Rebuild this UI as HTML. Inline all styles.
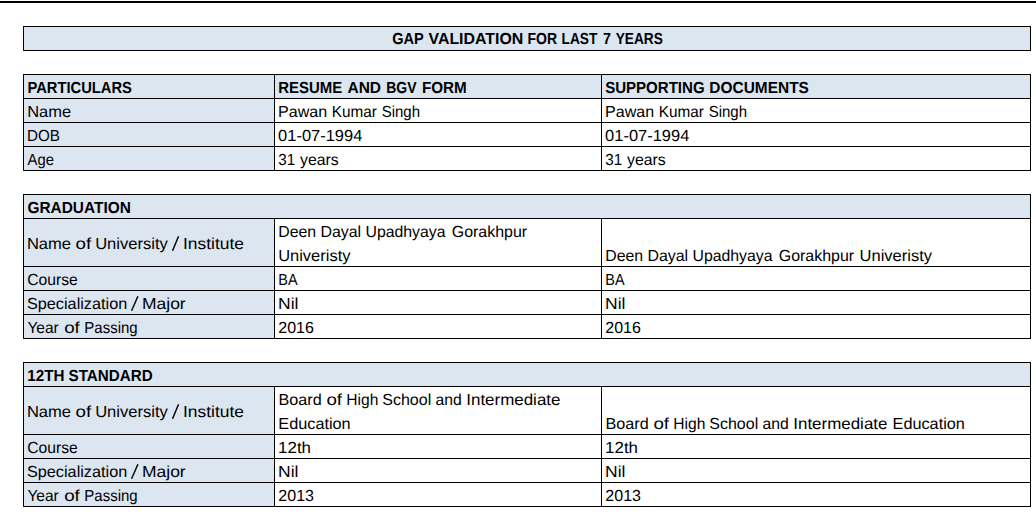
<!DOCTYPE html>
<html><head><meta charset="utf-8"><title>Gap Validation</title>
<style>
html,body{margin:0;padding:0;background:#fff;}
body{width:1036px;height:521px;position:relative;overflow:hidden;font-family:"Liberation Sans",sans-serif;color:#000;text-rendering:geometricPrecision;}
.topbar{position:absolute;left:0;top:1px;width:1036px;height:2px;background:#000;}
.f{position:absolute;background:#dce6f1;}
.h{position:absolute;height:1px;background:#000;left:23px;width:1008px;}
.v{position:absolute;width:1px;background:#000;}
.t{position:absolute;white-space:nowrap;font-size:16px;line-height:24px;height:24px;transform-origin:0 0;}
.b{font-weight:bold;}
.s{position:absolute;overflow:visible;}
</style></head><body>
<div class="topbar"></div>
<div class="f" style="left:23px;top:26px;width:1008px;height:25px"></div>
<div class="f" style="left:23px;top:74px;width:1008px;height:25px"></div>
<div class="f" style="left:23px;top:98px;width:252px;height:73px"></div>
<div class="f" style="left:23px;top:194px;width:1008px;height:25px"></div>
<div class="f" style="left:23px;top:218px;width:252px;height:121px"></div>
<div class="f" style="left:23px;top:362px;width:1008px;height:25px"></div>
<div class="f" style="left:23px;top:386px;width:252px;height:121px"></div>
<div class="h" style="top:26px"></div>
<div class="h" style="top:50px"></div>
<div class="h" style="top:74px"></div>
<div class="h" style="top:98px"></div>
<div class="h" style="top:122px"></div>
<div class="h" style="top:146px"></div>
<div class="h" style="top:170px"></div>
<div class="h" style="top:194px"></div>
<div class="h" style="top:218px"></div>
<div class="h" style="top:266px"></div>
<div class="h" style="top:290px"></div>
<div class="h" style="top:314px"></div>
<div class="h" style="top:338px"></div>
<div class="h" style="top:362px"></div>
<div class="h" style="top:386px"></div>
<div class="h" style="top:434px"></div>
<div class="h" style="top:458px"></div>
<div class="h" style="top:482px"></div>
<div class="h" style="top:506px"></div>
<div class="v" style="left:23px;top:26px;height:25px"></div>
<div class="v" style="left:1030px;top:26px;height:25px"></div>
<div class="v" style="left:23px;top:74px;height:97px"></div>
<div class="v" style="left:1030px;top:74px;height:97px"></div>
<div class="v" style="left:23px;top:194px;height:145px"></div>
<div class="v" style="left:1030px;top:194px;height:145px"></div>
<div class="v" style="left:23px;top:362px;height:145px"></div>
<div class="v" style="left:1030px;top:362px;height:145px"></div>
<div class="v" style="left:274px;top:74px;height:97px"></div>
<div class="v" style="left:601px;top:74px;height:97px"></div>
<div class="v" style="left:274px;top:218px;height:121px"></div>
<div class="v" style="left:601px;top:218px;height:121px"></div>
<div class="v" style="left:274px;top:386px;height:121px"></div>
<div class="v" style="left:601px;top:386px;height:121px"></div>
<span class="t b" style="left:392px;top:28px;transform:translateX(0.15px) scaleX(0.9105)">GAP</span>
<span class="t b" style="left:428px;top:28px;transform:translateX(0.51px) scaleX(0.9932)">VALIDATION</span>
<span class="t b" style="left:527px;top:28px;transform:translateX(0.47px) scaleX(0.8767)">FOR</span>
<span class="t b" style="left:561px;top:28px;transform:translateX(0.58px) scaleX(0.8574)">LAST</span>
<span class="t b" style="left:602px;top:28px;transform:translateX(1.00px) scaleX(0.8937)">7</span>
<span class="t b" style="left:615px;top:28px;transform:translateX(0.72px) scaleX(0.8554)">YEARS</span>
<span class="t b" style="left:27px;top:77px;transform:translateX(0.40px) scaleX(0.9211)">PARTICULARS</span>
<span class="t b" style="left:278px;top:77px;transform:translateX(0.27px) scaleX(0.9340)">RESUME</span>
<span class="t b" style="left:347px;top:77px;transform:translateX(0.43px) scaleX(0.9702)">AND</span>
<span class="t b" style="left:386px;top:77px;transform:translateX(0.22px) scaleX(0.8733)">BGV</span>
<span class="t b" style="left:421px;top:77px;transform:translateX(0.91px) scaleX(0.9524)">FORM</span>
<span class="t b" style="left:605px;top:77px;transform:translateX(0.14px) scaleX(0.9404)">SUPPORTING</span>
<span class="t b" style="left:709px;top:77px;transform:translateX(0.36px) scaleX(0.9653)">DOCUMENTS</span>
<span class="t" style="left:27px;top:101px;transform:translateX(0.18px) scaleX(1.0281)">Name</span>
<span class="t" style="left:278px;top:101px;transform:translateX(0.12px) scaleX(1.0041)">Pawan</span>
<span class="t" style="left:331px;top:101px;transform:translateX(0.68px) scaleX(0.9570)">Kumar</span>
<span class="t" style="left:381px;top:101px;transform:translateX(0.63px) scaleX(0.9376)">Singh</span>
<span class="t" style="left:605px;top:101px;transform:translateX(0.12px) scaleX(1.0041)">Pawan</span>
<span class="t" style="left:658px;top:101px;transform:translateX(0.68px) scaleX(0.9570)">Kumar</span>
<span class="t" style="left:708px;top:101px;transform:translateX(0.63px) scaleX(0.9376)">Singh</span>
<span class="t" style="left:27px;top:125px;transform:translateX(0.11px) scaleX(0.9481)">DOB</span>
<span class="t" style="left:278px;top:125px;transform:translateX(0.11px) scaleX(1.0288)">01-07-1994</span>
<span class="t" style="left:605px;top:125px;transform:translateX(0.11px) scaleX(1.0288)">01-07-1994</span>
<span class="t" style="left:27px;top:149px;transform:translateX(0.60px) scaleX(0.9238)">Age</span>
<span class="t" style="left:278px;top:149px;transform:translateX(0.33px) scaleX(0.9494)">31</span>
<span class="t" style="left:300px;top:149px;transform:translateX(0.03px) scaleX(0.9897)">years</span>
<span class="t" style="left:605px;top:149px;transform:translateX(0.33px) scaleX(0.9494)">31</span>
<span class="t" style="left:627px;top:149px;transform:translateX(0.03px) scaleX(0.9897)">years</span>
<span class="t b" style="left:27px;top:197px;transform:translateX(0.39px) scaleX(0.9643)">GRADUATION</span>
<span class="t" style="left:26px;top:233px;transform:translateX(0.91px) scaleX(1.0348)">Name</span>
<span class="t" style="left:75px;top:233px;transform:translateX(0.54px) scaleX(1.1704)">of</span>
<span class="t" style="left:95px;top:233px;transform:translateX(0.15px) scaleX(1.0350)">University</span>
<svg class="s" style="left:169.80px;top:233px" width="11.50" height="22" viewBox="0 0 11.50 22"><line x1="2.55" y1="17.8" x2="8.55" y2="3.30" stroke="#000" stroke-width="1.45"/></svg>
<span class="t" style="left:183px;top:233px;transform:translateX(0.03px) scaleX(1.0859)">Institute</span>
<span class="t" style="left:278px;top:221px;transform:translateX(0.20px) scaleX(0.9901)">Deen</span>
<span class="t" style="left:320px;top:221px;transform:translateX(0.39px) scaleX(0.9957)">Dayal</span>
<span class="t" style="left:365px;top:221px;transform:translateX(0.48px) scaleX(0.9879)">Upadhyaya</span>
<span class="t" style="left:451px;top:221px;transform:translateX(0.78px) scaleX(0.9967)">Gorakhpur</span>
<span class="t" style="left:278px;top:245px;transform:translateX(0.15px) scaleX(1.0296)">Univeristy</span>
<span class="t" style="left:605px;top:245px;transform:translateX(0.20px) scaleX(0.9901)">Deen</span>
<span class="t" style="left:647px;top:245px;transform:translateX(0.39px) scaleX(0.9957)">Dayal</span>
<span class="t" style="left:692px;top:245px;transform:translateX(0.48px) scaleX(0.9879)">Upadhyaya</span>
<span class="t" style="left:778px;top:245px;transform:translateX(0.78px) scaleX(0.9967)">Gorakhpur</span>
<span class="t" style="left:859px;top:245px;transform:translateX(0.57px) scaleX(1.0309)">Univeristy</span>
<span class="t" style="left:27px;top:269px;transform:translateX(0.28px) scaleX(0.9783)">Course</span>
<span class="t" style="left:278px;top:269px;transform:translateX(0.29px) scaleX(0.8998)">BA</span>
<span class="t" style="left:605px;top:269px;transform:translateX(0.29px) scaleX(0.8998)">BA</span>
<span class="t" style="left:26px;top:293px;transform:translateX(0.95px) scaleX(1.0156)">Specialization</span>
<svg class="s" style="left:128.50px;top:293px" width="11.90" height="22" viewBox="0 0 11.90 22"><line x1="2.55" y1="17.8" x2="8.95" y2="3.30" stroke="#000" stroke-width="1.45"/></svg>
<span class="t" style="left:141px;top:293px;transform:translateX(0.97px) scaleX(1.0924)">Major</span>
<span class="t" style="left:278px;top:293px;transform:translateX(0.06px) scaleX(1.0942)">Nil</span>
<span class="t" style="left:605px;top:293px;transform:translateX(0.06px) scaleX(1.0942)">Nil</span>
<span class="t" style="left:27px;top:317px;transform:translateX(0.40px) scaleX(0.9708)">Year</span>
<span class="t" style="left:64px;top:317px;transform:translateX(0.18px) scaleX(1.1701)">of</span>
<span class="t" style="left:84px;top:317px;transform:translateX(0.36px) scaleX(0.9357)">Passing</span>
<span class="t" style="left:278px;top:317px;transform:translateX(0.30px) scaleX(0.9997)">2016</span>
<span class="t" style="left:605px;top:317px;transform:translateX(0.30px) scaleX(0.9997)">2016</span>
<span class="t b" style="left:27px;top:365px;transform:translateX(0.25px) scaleX(0.9498)">12TH</span>
<span class="t b" style="left:68px;top:365px;transform:translateX(0.60px) scaleX(0.9488)">STANDARD</span>
<span class="t" style="left:26px;top:401px;transform:translateX(0.91px) scaleX(1.0348)">Name</span>
<span class="t" style="left:75px;top:401px;transform:translateX(0.54px) scaleX(1.1704)">of</span>
<span class="t" style="left:95px;top:401px;transform:translateX(0.15px) scaleX(1.0350)">University</span>
<svg class="s" style="left:169.80px;top:401px" width="11.50" height="22" viewBox="0 0 11.50 22"><line x1="2.55" y1="17.8" x2="8.55" y2="3.30" stroke="#000" stroke-width="1.45"/></svg>
<span class="t" style="left:183px;top:401px;transform:translateX(0.03px) scaleX(1.0859)">Institute</span>
<span class="t" style="left:278px;top:389px;transform:translateX(0.59px) scaleX(1.0097)">Board</span>
<span class="t" style="left:326px;top:389px;transform:translateX(0.43px) scaleX(1.1695)">of</span>
<span class="t" style="left:346px;top:389px;transform:translateX(0.27px) scaleX(0.9737)">High</span>
<span class="t" style="left:382px;top:389px;transform:translateX(0.25px) scaleX(1.0004)">School</span>
<span class="t" style="left:435px;top:389px;transform:translateX(0.43px) scaleX(0.9820)">and</span>
<span class="t" style="left:466px;top:389px;transform:translateX(0.27px) scaleX(1.0587)">Intermediate</span>
<span class="t" style="left:278px;top:413px;transform:translateX(0.36px) scaleX(1.0153)">Education</span>
<span class="t" style="left:605px;top:413px;transform:translateX(0.59px) scaleX(1.0097)">Board</span>
<span class="t" style="left:653px;top:413px;transform:translateX(0.43px) scaleX(1.1695)">of</span>
<span class="t" style="left:673px;top:413px;transform:translateX(0.27px) scaleX(0.9737)">High</span>
<span class="t" style="left:709px;top:413px;transform:translateX(0.25px) scaleX(1.0004)">School</span>
<span class="t" style="left:762px;top:413px;transform:translateX(0.43px) scaleX(0.9820)">and</span>
<span class="t" style="left:793px;top:413px;transform:translateX(0.27px) scaleX(1.0587)">Intermediate</span>
<span class="t" style="left:892px;top:413px;transform:translateX(0.60px) scaleX(1.0152)">Education</span>
<span class="t" style="left:27px;top:437px;transform:translateX(0.28px) scaleX(0.9783)">Course</span>
<span class="t" style="left:278px;top:437px;transform:translateX(0.12px) scaleX(1.0560)">12th</span>
<span class="t" style="left:605px;top:437px;transform:translateX(0.12px) scaleX(1.0560)">12th</span>
<span class="t" style="left:26px;top:461px;transform:translateX(0.95px) scaleX(1.0156)">Specialization</span>
<svg class="s" style="left:128.50px;top:461px" width="11.90" height="22" viewBox="0 0 11.90 22"><line x1="2.55" y1="17.8" x2="8.95" y2="3.30" stroke="#000" stroke-width="1.45"/></svg>
<span class="t" style="left:141px;top:461px;transform:translateX(0.97px) scaleX(1.0924)">Major</span>
<span class="t" style="left:278px;top:461px;transform:translateX(0.06px) scaleX(1.0942)">Nil</span>
<span class="t" style="left:605px;top:461px;transform:translateX(0.06px) scaleX(1.0942)">Nil</span>
<span class="t" style="left:27px;top:485px;transform:translateX(0.40px) scaleX(0.9708)">Year</span>
<span class="t" style="left:64px;top:485px;transform:translateX(0.18px) scaleX(1.1701)">of</span>
<span class="t" style="left:84px;top:485px;transform:translateX(0.36px) scaleX(0.9357)">Passing</span>
<span class="t" style="left:278px;top:485px;transform:translateX(0.30px) scaleX(1.0024)">2013</span>
<span class="t" style="left:605px;top:485px;transform:translateX(0.30px) scaleX(1.0024)">2013</span>
</body></html>
